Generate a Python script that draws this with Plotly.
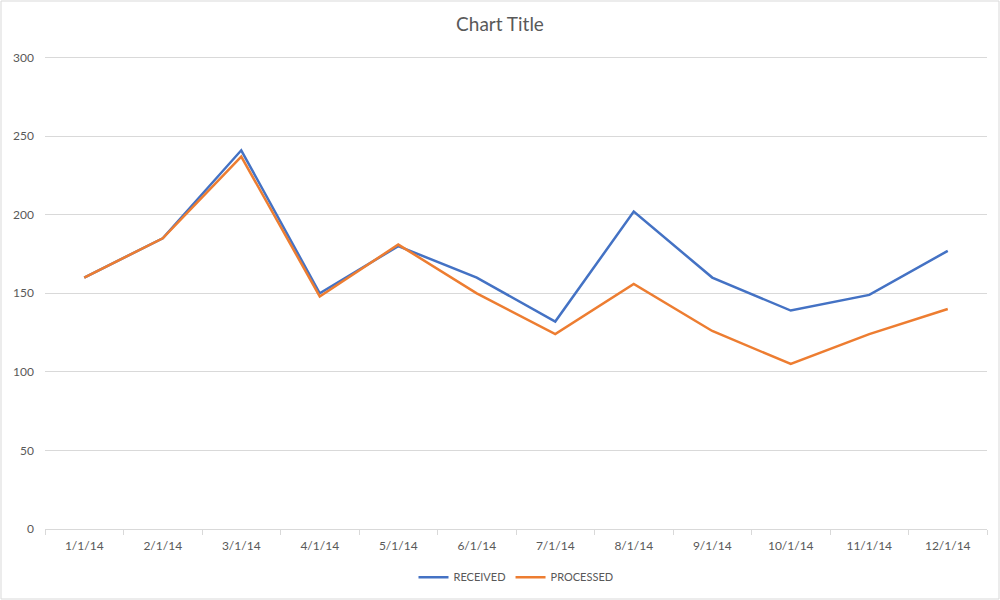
import plotly.graph_objects as go

months = ["1/1/14", "2/1/14", "3/1/14", "4/1/14", "5/1/14", "6/1/14",
          "7/1/14", "8/1/14", "9/1/14", "10/1/14", "11/1/14", "12/1/14"]
received = [160, 185, 241, 150, 180, 160, 132, 202, 160, 139, 149, 177]
processed = [160, 185, 237, 148, 181, 150, 124, 156, 126, 105, 124, 140]

font_family = "Lato, Liberation Sans, sans-serif"
grey_text = "#595959"
grid = "#d9d9d9"

fig = go.Figure()
fig.add_trace(go.Scatter(x=months, y=received, mode="lines", name="RECEIVED",
                         line=dict(color="#4472C4", width=2.5)))
fig.add_trace(go.Scatter(x=months, y=processed, mode="lines", name="PROCESSED",
                         line=dict(color="#ED7D31", width=2.5)))

fig.update_layout(
    width=1000, height=600,
    paper_bgcolor="white", plot_bgcolor="white",
    margin=dict(l=45, r=13, t=56, b=71, autoexpand=False),
    font=dict(family=font_family, color=grey_text, size=12),
    title=dict(text="Chart Title", x=0.5, xanchor="center", y=0.96, yanchor="middle",
               font=dict(size=19, color=grey_text)),
    showlegend=True,
    legend=dict(orientation="h", x=0.5, xanchor="center", y=0.038, yanchor="middle",
                yref="container", font=dict(size=11, color=grey_text)),
    xaxis=dict(type="category", range=[-0.5, 11.5], showgrid=False, showline=True,
               linecolor=grid, linewidth=1, ticks="outside", tickson="boundaries",
               ticklen=5, tickcolor=grid, tickfont=dict(size=12, color=grey_text),
               ticklabelstandoff=6, automargin=False),
    yaxis=dict(range=[0, 301], tickvals=[0, 50, 100, 150, 200, 250, 300],
               showgrid=True, gridcolor=grid, gridwidth=1, automargin=False,
               zeroline=False, showline=False, tickfont=dict(size=12, color=grey_text),
               ticklabelstandoff=10),
)

fig.add_shape(type="rect", xref="paper", yref="paper",
              x0=-44 / 942, x1=1 + 12 / 942, y0=-70 / 473, y1=1 + 55 / 473,
              line=dict(color="#d9d9d9", width=1), fillcolor="rgba(0,0,0,0)")

page_js = ("document.body.style.margin='0';"
           "document.body.style.overflow='hidden';"
           "document.documentElement.style.overflow='hidden';"
           "document.body.style.height='600px';")
fig.write_html("out.html", config={"displayModeBar": False}, post_script=page_js)
